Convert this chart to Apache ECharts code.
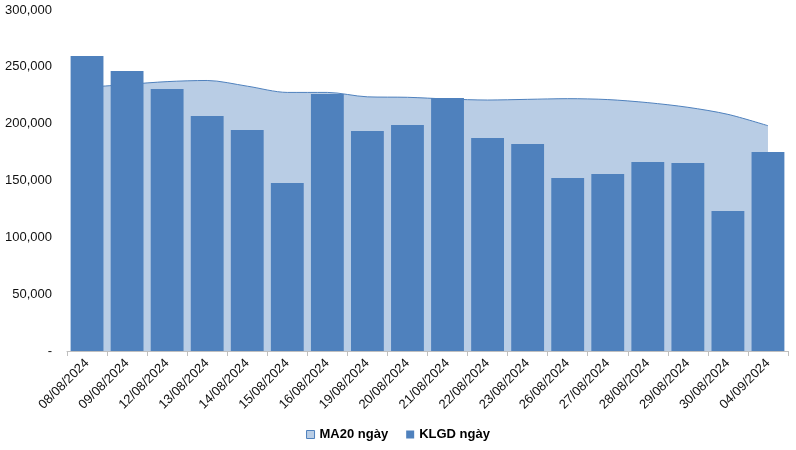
<!DOCTYPE html>
<html><head><meta charset="utf-8">
<script src="https://cdn.jsdelivr.net/npm/echarts@6/dist/echarts.min.js"></script>
<style>html,body{margin:0;padding:0;background:#fff}#c{width:796px;height:450px}</style>
</head><body><div id="c"></div>
<script>
var categories = ["08/08/2024","09/08/2024","12/08/2024","13/08/2024","14/08/2024","15/08/2024","16/08/2024","19/08/2024","20/08/2024","21/08/2024","22/08/2024","23/08/2024","26/08/2024","27/08/2024","28/08/2024","29/08/2024","30/08/2024","04/09/2024"];
var klgd = [259500,246300,230500,206700,194400,147800,226100,193500,198800,222600,187400,182100,152200,155700,166300,165400,123200,175100];
var ma20 = [232000,234500,237000,238000,233000,227500,227500,223600,223200,221700,220800,221400,222000,221200,218500,214400,208200,198200];
var yTicks = [0,50000,100000,150000,200000,250000,300000];

var chart = echarts.init(document.getElementById('c'));
chart.setOption({
  animation:false,
  grid:{left:67,right:8,top:10,bottom:99,containLabel:false},
  legend:{
    bottom:4,left:'center',itemWidth:8,itemHeight:8,itemGap:18,
    textStyle:{fontFamily:'Liberation Sans, Arial',fontSize:13,fontWeight:'bold',color:'#000'},
    data:[
      {name:'MA20 ngày',icon:'rect',itemStyle:{color:'#b9cde5',borderColor:'#4f81bd',borderWidth:1}},
      {name:'KLGD ngày',icon:'rect',itemStyle:{color:'#4f81bd'}}
    ]
  },
  xAxis:{
    type:'category',data:categories,boundaryGap:true,
    axisLine:{lineStyle:{color:'#bfbfbf'}},
    axisTick:{show:true,length:5,lineStyle:{color:'#bfbfbf'}},
    axisLabel:{rotate:45,interval:0,margin:10,color:'#111',fontSize:13,fontFamily:'Liberation Sans, Arial'}
  },
  yAxis:{
    type:'value',min:0,max:300000,interval:50000,
    axisLine:{show:false},axisTick:{show:false},splitLine:{show:false},
    axisLabel:{margin:15,color:'#111',fontSize:13,fontFamily:'Liberation Sans, Arial',
      formatter:function(v){return v===0?'-':v.toLocaleString('en-US');}}
  },
  series:[
    {name:'MA20 ngày',type:'line',data:ma20,smooth:0.3,symbol:'none',
      lineStyle:{color:'#4f81bd',width:1},itemStyle:{color:'#b9cde5'},
      areaStyle:{color:'#b9cde5',opacity:1},z:1},
    {name:'KLGD ngày',type:'bar',data:klgd,barCategoryGap:'18%',
      itemStyle:{color:'#4f81bd'},z:2}
  ]
});
</script></body></html>
